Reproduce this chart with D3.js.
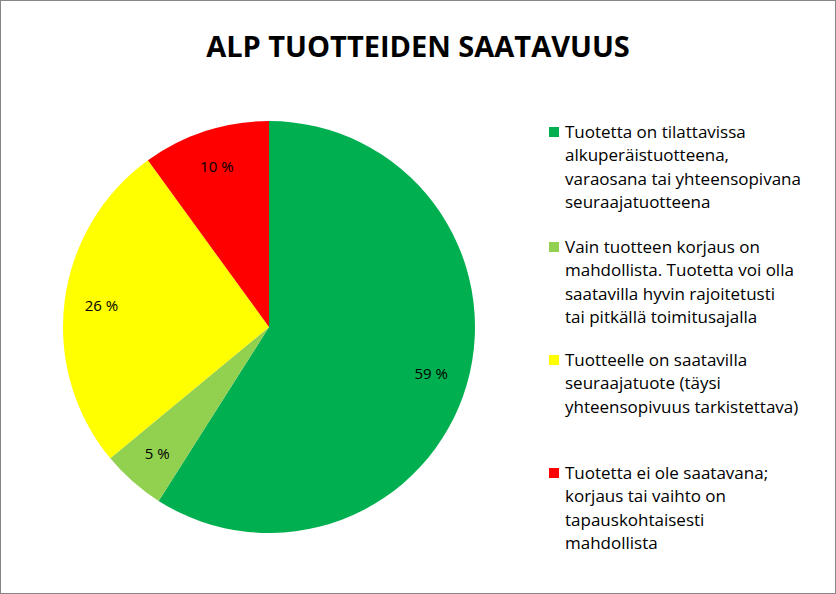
<!DOCTYPE html><html><head><meta charset="utf-8"><script src="https://cdn.jsdelivr.net/npm/d3@7"></script>
<style>body{margin:0}</style></head><body><svg id="c" width="836" height="594"></svg>
<script>
const categories=["Tuotetta on tilattavissa alkuperäistuotteena, varaosana tai yhteensopivana seuraajatuotteena","Vain tuotteen korjaus on mahdollista. Tuotetta voi olla saatavilla hyvin rajoitetusti tai pitkällä toimitusajalla","Tuotteelle on saatavilla seuraajatuote (täysi yhteensopivuus tarkistettava)","Tuotetta ei ole saatavana; korjaus tai vaihto on tapauskohtaisesti mahdollista"];
const legendLines=[["Tuotetta on tilattavissa","alkuperäistuotteena,","varaosana tai yhteensopivana","seuraajatuotteena"],["Vain tuotteen korjaus on","mahdollista. Tuotetta voi olla","saatavilla hyvin rajoitetusti","tai pitkällä toimitusajalla"],["Tuotteelle on saatavilla","seuraajatuote (täysi","yhteensopivuus tarkistettava)"],["Tuotetta ei ole saatavana;","korjaus tai vaihto on","tapauskohtaisesti","mahdollista"]];
const values=[59,5,26,10];
const colors=["#00B050","#92D050","#FFFF00","#FF0000"];
const svg=d3.select("#c");
svg.append("rect").attr("x",0.5).attr("y",0.5).attr("width",835).attr("height",593).attr("fill","#fff").attr("stroke","#868686");
svg.append("text").attr("x",418).attr("y",57).attr("text-anchor","middle").attr("font-family","Open Sans, Liberation Sans, sans-serif").attr("font-weight","bold").attr("font-size",29).text("ALP TUOTTEIDEN SAATAVUUS");
const r=206,cx=269,cy=327;
const pie=d3.pie().sort(null)(values);
const arc=d3.arc().innerRadius(0).outerRadius(r);
const lab=d3.arc().innerRadius(r*0.82).outerRadius(r*0.82);
const g=svg.append("g").attr("transform",`translate(${cx},${cy})`);
g.selectAll("path").data(pie).join("path").attr("d",arc).attr("fill",(d,i)=>colors[i]);
g.selectAll("text").data(pie).join("text").attr("transform",d=>`translate(${lab.centroid(d)})`).attr("text-anchor","middle").attr("dy","0.35em").attr("font-family","Open Sans, Liberation Sans, sans-serif").attr("font-size",15).text(d=>d.data+" %");
const starts=[122,237,350,463];
const lg=svg.append("g").attr("font-family","Open Sans, Liberation Sans, sans-serif").attr("font-size",17);
legendLines.forEach((lines,i)=>{
 lg.append("rect").attr("x",549).attr("y",starts[i]+5).attr("width",10).attr("height",10).attr("fill",colors[i]);
 lines.forEach((t,j)=>lg.append("text").attr("x",565).attr("y",starts[i]+16+j*23.3).text(t));
});
</script></body></html>
